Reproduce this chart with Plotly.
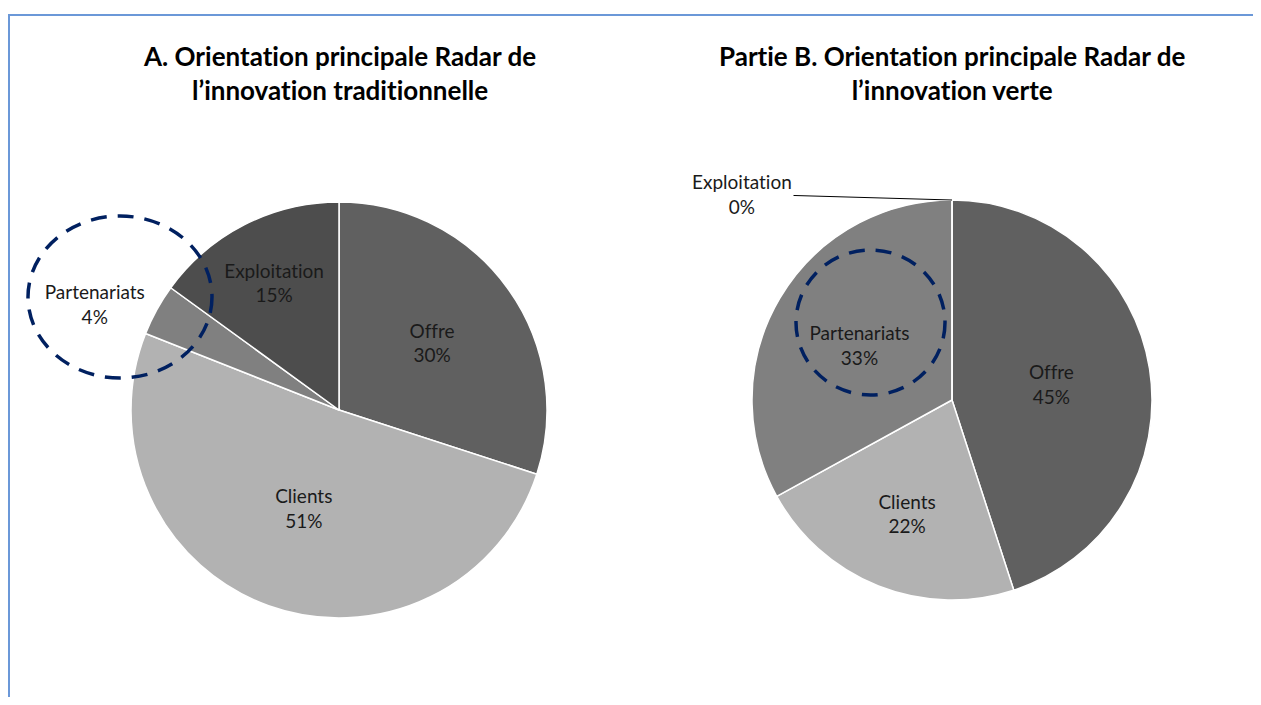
import plotly.graph_objects as go

# data
labels_a = ["Offre", "Clients", "Partenariats", "Exploitation"]
values_a = [30, 51, 4, 15]
colors_a = ["#606060", "#b2b2b2", "#808080", "#4d4d4d"]
textpos_a = ["inside", "inside", "outside", "inside"]

labels_b = ["Offre", "Clients", "Partenariats", "Exploitation"]
values_b = [45, 22, 33, 0]
colors_b = ["#606060", "#b2b2b2", "#808080", "#4d4d4d"]

title_a = "A. Orientation principale Radar de<br>l’innovation traditionnelle"
title_b = "Partie B. Orientation principale Radar de<br>l’innovation verte"

# the page body has an 8px margin, so the figure is drawn 8px in from the window corner
OFF = 8
W, H = 1261 - 2 * OFF, 705 - 2 * OFF
FONT = "Lato, 'Open Sans', sans-serif"
NOLIG = '<span style="font-variant-ligatures:none">{}</span>'


def px_x(v):
    return (v - OFF) / W


def px_y(v):
    return 1 - (v - OFF) / H


fig = go.Figure()

fig.add_trace(go.Pie(
    labels=labels_a, values=values_a, sort=False, direction="clockwise", rotation=0,
    marker=dict(colors=colors_a, line=dict(color="white", width=1.5)),
    texttemplate=NOLIG.format("%{label}") + "<br>%{percent:.0%}", textposition=textpos_a,
    insidetextorientation="horizontal", automargin=False,
    textfont=dict(size=19, color="#1a1a1a", family=FONT),
    domain=dict(x=[px_x(131), px_x(547)], y=[px_y(618), px_y(202)]),
    showlegend=False, hoverinfo="label+percent",
))

# the 0% slice gets its label through an annotation
text_b = [NOLIG.format("%{label}") + "<br>%{percent:.0%}" if v > 0 else "" for v in values_b]
fig.add_trace(go.Pie(
    labels=labels_b, values=values_b, sort=False, direction="clockwise", rotation=0,
    marker=dict(colors=colors_b, line=dict(color="white", width=1.5)),
    texttemplate=text_b, textposition="inside",
    insidetextorientation="horizontal", automargin=False,
    textfont=dict(size=19, color="#1a1a1a", family=FONT),
    domain=dict(x=[px_x(752), px_x(1152)], y=[px_y(600), px_y(200)]),
    showlegend=False, hoverinfo="label+percent",
))


def bold_title(t):
    return "<br>".join("<b>" + NOLIG.format(line) + "</b>" for line in t.split("<br>"))


annotations = [
    dict(text=bold_title(title_a), x=px_x(339), y=px_y(73), xref="paper", yref="paper",
         xanchor="center", yanchor="middle", showarrow=False,
         font=dict(size=26, family=FONT, color="black"), align="center"),
    dict(text=bold_title(title_b), x=px_x(952), y=px_y(73), xref="paper", yref="paper",
         xanchor="center", yanchor="middle", showarrow=False,
         font=dict(size=26, family=FONT, color="black"), align="center"),
    dict(text=NOLIG.format(labels_b[3]) + f"<br>{values_b[3]}%", x=px_x(952), y=px_y(200),
         xref="paper", yref="paper", showarrow=True, arrowhead=0, arrowwidth=1,
         arrowcolor="black", ax=-210, ay=-6, standoff=0,
         font=dict(size=19, family=FONT, color="#1a1a1a"), align="center"),
]

circle_line = dict(color="#002060", width=3.5, dash="16px,11px")
shapes = [
    # outer frame
    dict(type="rect", xref="paper", yref="paper", x0=px_x(9), x1=1.02, y0=-0.02, y1=px_y(15),
         line=dict(color="#6b98d8", width=2)),
    # dashed highlight circles
    dict(type="circle", xref="paper", yref="paper", x0=px_x(28), x1=px_x(212),
         y0=px_y(378), y1=px_y(216), line=circle_line),
    dict(type="circle", xref="paper", yref="paper", x0=px_x(796), x1=px_x(945),
         y0=px_y(395), y1=px_y(250), line=circle_line),
]

fig.update_layout(
    width=W, height=H, margin=dict(l=0, r=0, t=0, b=0),
    paper_bgcolor="white", plot_bgcolor="white",
    annotations=annotations, shapes=shapes,
    font=dict(family=FONT),
)

fig.write_html("out.html")
